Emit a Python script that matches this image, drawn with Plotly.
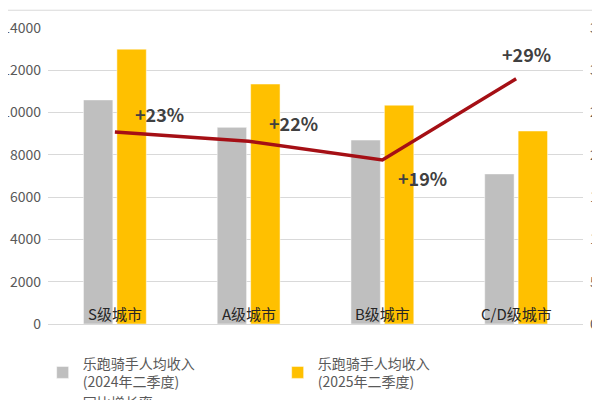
import plotly.graph_objects as go

cities = ["S级城市", "A级城市", "B级城市", "C/D级城市"]
income_2024 = [10600, 9300, 8700, 7100]
income_2025 = [13000, 11350, 10350, 9130]
growth = [22.7, 21.6, 19.4, 29.0]
growth_labels = ["+23%", "+22%", "+19%", "+29%"]
left_ticks = [0, 2000, 4000, 6000, 8000, 10000, 12000, 14000]
right_ticks = [0, 5, 10, 15, 20, 25, 30, 35]

font = "Noto Sans CJK SC"
fig = go.Figure()
fig.add_bar(x=cities, y=income_2024, name="乐跑骑手人均收入<br>(2024年二季度)",
            marker_color="#BFBFBF")
fig.add_bar(x=cities, y=income_2025, name="乐跑骑手人均收入<br>(2025年二季度)",
            marker_color="#FFC000")
fig.add_scatter(x=cities, y=growth, yaxis="y2", mode="lines", name="同比增长率",
                line=dict(color="#A50F15", width=3.5))

offs = [(45, 18), (45, 18), (40, -18), (10, 25)]
for c, g, t, (dx, dy) in zip(cities, growth, growth_labels, offs):
    fig.add_annotation(x=c, y=g, yref="y2", text=f"<b>{t}</b>", showarrow=False,
                       xshift=dx, yshift=dy, font=dict(size=18, color="#404040"))
for c in cities:
    fig.add_annotation(x=c, y=0, text=c, showarrow=False, yanchor="bottom", yshift=-2,
                       font=dict(size=15, color="#262626"))

fig.update_layout(
    width=600, height=400, template="plotly_white",
    font=dict(family=font, color="#595959", size=13),
    margin=dict(l=40, r=25, t=20, b=84, autoexpand=False),
    barmode="group", bargap=0.5, bargroupgap=0.12,
    showlegend=True,
    legend=dict(orientation="h", x=-0.01, y=-0.08, xanchor="left", yanchor="top",
                font=dict(size=14, color="#595959"), entrywidth=190, itemwidth=30),
    xaxis=dict(showticklabels=False, showline=True, linecolor="#D9D9D9", automargin=False),
    yaxis=dict(range=[0, 14000], tickvals=left_ticks, tickformat="d", gridcolor="#D9D9D9",
               tickfont=dict(size=14, color="#595959"), zeroline=False, automargin=False,
               ticklabelstandoff=6),
    yaxis2=dict(range=[0, 35], tickvals=right_ticks, overlaying="y", side="right",
                showgrid=False, ticksuffix="%", automargin=False, ticklabelstandoff=6,
                tickfont=dict(size=14, color="#595959")),
)
fig.add_shape(type="line", xref="paper", yref="paper", x0=-0.1, x1=1.1, y0=1.06, y1=1.06,
              line=dict(color="#D9D9D9", width=1))
fig.write_html("out.html")
